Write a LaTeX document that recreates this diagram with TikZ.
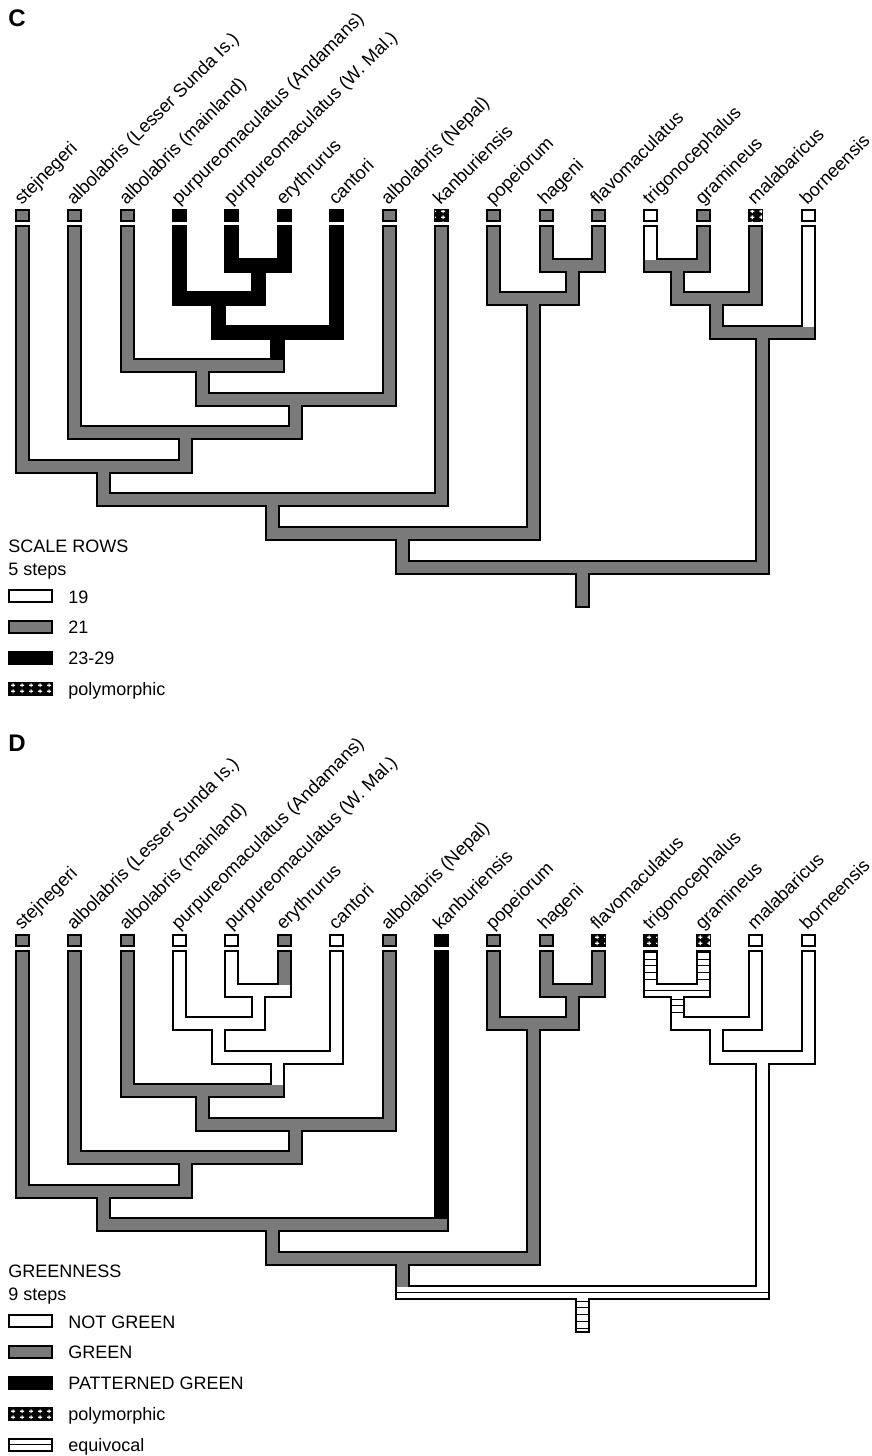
\documentclass[tikz,border=0pt]{standalone}
\usepackage{fontspec}
\setmainfont{Liberation Sans}
\usetikzlibrary{calc,patterns}

% white crosses on black for polymorphic states
\pgfdeclarepatternformonly{polycross}{\pgfpointorigin}{\pgfqpoint{4.3pt}{3pt}}{\pgfqpoint{4.3pt}{3pt}}{
  \pgfpathrectangle{\pgfqpoint{1.15pt}{1.2pt}}{\pgfqpoint{2pt}{0.6pt}}
  \pgfpathrectangle{\pgfqpoint{1.85pt}{0.5pt}}{\pgfqpoint{0.6pt}{2pt}}
  \pgfusepath{fill}
}

\colorlet{stipple}{black!52}
\tikzset{
  rim/.style={line width=7.5pt},
  branch/.style={line width=5.5pt, shorten <=1pt, shorten >=1pt},
  bar/.style={line width=5.5pt, line cap=rect},
  wht/.style={draw=white},
  gry/.style={draw=stipple},
  blk/.style={draw=black},
  eqv/.style={draw=white, postaction={draw=black, dash pattern=on 0.5pt off 2.85pt}},
  eqvbar/.style={draw=white, postaction={draw=black, line width=0.5pt, shorten <=-2.5pt, shorten >=-2.5pt}},
  swatch/.style={draw=black, line width=1pt, minimum width=6.5pt, minimum height=5.5pt, inner sep=0pt},
  legsw/.style={minimum width=21.5pt, minimum height=6pt},
  fwht/.style={fill=white},
  fgry/.style={fill=stipple},
  fblk/.style={fill=black},
  fpol/.style={fill=black, postaction={pattern=polycross, pattern color=white}},
  feqv/.style={fill=white, path picture={\draw[line width=0.5pt] (path picture bounding box.west) -- (path picture bounding box.east);}},
  lab/.style={rotate=45, anchor=base west, inner sep=0pt, font=\fontsize{9.2}{11}\selectfont},
  legend/.style={anchor=base west, inner sep=0pt, font=\fontsize{9}{11}\selectfont},
  tag/.style={inner sep=0pt, font=\bfseries\fontsize{12}{14}\selectfont},
}

% tips and nodes of the tree
\newcommand{\treecoords}{%
  \foreach \i in {0,...,15}
    \coordinate (t\i) at ({22.5+52.37*\i},225);
  \foreach \nd/\xx/\lv in {n1/258.17/1, n2/218.89/2, n3/277.8/3, n4/202.52/4,
      n5/295.8/5, n6/185.34/6, n7/103.92/7, n8/272.69/8, p1/572.39/1, p2/533.11/2,
      n9/402.9/9, r1/677.13/1, r2/716.4/2, r3/762.23/3, root/582.56/10}
    \coordinate (\nd) at (\xx,{231.5+33.55*\lv});
  \coordinate (base) at (582.56,608);
}

% black border of all branches
\newcommand{\treerims}{%
  \foreach \kid/\mom in {t0/n7, t1/n6, t2/n4, t3/n2, t4/n1, t5/n1, t6/n3, t7/n5,
      t8/n8, t9/p2, t10/p1, t11/p1, t12/r1, t13/r1, t14/r2, t15/r3, n1/n2, n2/n3,
      n3/n4, n4/n5, n5/n6, n6/n7, n7/n8, n8/n9, p1/p2, p2/n9, n9/root, r1/r2,
      r2/r3, r3/root, root/base}
    \draw[rim] (\kid) -- (\kid |- \mom);
  \foreach \nd/\lft/\rgt in {n1/t4/t5, n2/t3/n1, n3/n2/t6, n4/t2/n3, n5/n4/t7,
      n6/t1/n5, n7/t0/n6, n8/n7/t8, p1/t10/t11, p2/t9/p1, n9/n8/p2, r1/t12/t13,
      r2/r1/t14, r3/r2/t15, root/n9/r3}
    \draw[rim, line cap=rect] (\lft |- \nd) -- (\rgt |- \nd);
}

% taxon names
\newcommand{\treelabels}{%
  \foreach \i/\txt in {0/stejnegeri, 1/albolabris (Lesser Sunda Is.),
      2/albolabris (mainland), 3/purpureomaculatus (Andamans),
      4/purpureomaculatus (W. Mal.), 5/erythrurus, 6/cantori,
      7/albolabris (Nepal), 8/kanburiensis, 9/popeiorum, 10/hageni,
      11/flavomaculatus, 12/trigonocephalus, 13/gramineus, 14/malabaricus,
      15/borneensis}
    \node[lab] (lab\i) at ($(t\i)+(-1,-19)$) {\txt};
}

\begin{document}
\begin{tikzpicture}[x=0.5pt, y=-0.5pt]
    \useasboundingbox (0,0) rectangle (872,1456);
    % Panel C: scale rows
    \begin{scope}
        \treecoords
        \treerims
        % Branches
        \foreach \kid/\mom/\col in {t0/n7/gry, t1/n6/gry, t2/n4/gry, t3/n2/blk,
            t4/n1/blk, t5/n1/blk, t6/n3/blk, t7/n5/gry, t8/n8/gry, t9/p2/gry,
            t10/p1/gry, t11/p1/gry, t12/r1/wht, t13/r1/gry, t14/r2/gry, t15/r3/wht,
            n1/n2/blk, n2/n3/blk, n3/n4/blk, n4/n5/gry, n5/n6/gry, n6/n7/gry,
            n7/n8/gry, n8/n9/gry, p1/p2/gry, p2/n9/gry, n9/root/gry, r1/r2/gry,
            r2/r3/gry, r3/root/gry, root/base/gry}
            \draw[branch, \col] (\kid) -- (\kid |- \mom);
        \foreach \nd/\lft/\rgt/\col in {n1/t4/t5/blk, n2/t3/n1/blk, n3/n2/t6/blk,
            n4/t2/n3/gry, n5/n4/t7/gry, n6/t1/n5/gry, n7/t0/n6/gry, n8/n7/t8/gry,
            p1/t10/t11/gry, p2/t9/p1/gry, n9/n8/p2/gry, r1/t12/t13/gry,
            r2/r1/t14/gry, r3/r2/t15/gry, root/n9/r3/gry}
            \draw[bar, \col] (\lft |- \nd) -- (\rgt |- \nd);
        % Tip states
        \foreach \i/\col in {0/fgry, 1/fgry, 2/fgry, 3/fblk, 4/fblk, 5/fblk,
            6/fblk, 7/fgry, 8/fpol, 9/fgry, 10/fgry, 11/fgry, 12/fwht, 13/fgry,
            14/fpol, 15/fwht}
            \node[swatch, anchor=south, \col] (box\i) at ($(t\i)+(0,-3)$) {};
        \treelabels
        % Legend
        \node[tag] (tagC) at (17,18) {C};
        \node[legend] (headC) at (8,552) {SCALE ROWS};
        \node[legend] (stepsC) at (8,575) {5 steps};
        \foreach \row/\col/\txt in {0/fwht/19, 1/fgry/21, 2/fblk/23-29, 3/fpol/polymorphic} {
            \node[swatch, legsw, \col] (swC\row) at (30,{596+30.9*\row}) {};
            \node[legend] (keyC\row) at (68,{603+30.9*\row}) {\txt};
        }
    \end{scope}
    % Panel D: greenness
    \begin{scope}[shift={(0,725)}]
        \treecoords
        \treerims
        % Branches
        \foreach \kid/\mom/\col in {t0/n7/gry, t1/n6/gry, t2/n4/gry, t3/n2/wht,
            t4/n1/wht, t5/n1/gry, t6/n3/wht, t7/n5/gry, t8/n8/blk, t9/p2/gry,
            t10/p1/gry, t11/p1/gry, t12/r1/eqv, t13/r1/eqv, t14/r2/wht, t15/r3/wht,
            n1/n2/wht, n2/n3/wht, n3/n4/wht, n4/n5/gry, n5/n6/gry, n6/n7/gry,
            n7/n8/gry, n8/n9/gry, p1/p2/gry, p2/n9/gry, n9/root/gry, r1/r2/eqv,
            r2/r3/wht, r3/root/wht, root/base/eqv}
            \draw[branch, \col] (\kid) -- (\kid |- \mom);
        \foreach \nd/\lft/\rgt/\col in {n1/t4/t5/wht, n2/t3/n1/wht, n3/n2/t6/wht,
            n4/t2/n3/gry, n5/n4/t7/gry, n6/t1/n5/gry, n7/t0/n6/gry, n8/n7/t8/gry,
            p1/t10/t11/gry, p2/t9/p1/gry, n9/n8/p2/gry, r1/t12/t13/eqvbar,
            r2/r1/t14/wht, r3/r2/t15/wht, root/n9/r3/eqvbar}
            \draw[bar, \col] (\lft |- \nd) -- (\rgt |- \nd);
        % Tip states
        \foreach \i/\col in {0/fgry, 1/fgry, 2/fgry, 3/fwht, 4/fwht, 5/fgry,
            6/fwht, 7/fgry, 8/fblk, 9/fgry, 10/fgry, 11/fpol, 12/fpol, 13/fpol,
            14/fwht, 15/fwht}
            \node[swatch, anchor=south, \col] (box\i) at ($(t\i)+(0,-3)$) {};
        \treelabels
        % Legend
        \node[tag] (tagD) at (17,18) {D};
        \node[legend] (headD) at (8,552) {GREENNESS};
        \node[legend] (stepsD) at (8,575) {9 steps};
        \foreach \row/\col/\txt in {0/fwht/NOT GREEN, 1/fgry/GREEN,
            2/fblk/PATTERNED GREEN, 3/fpol/polymorphic, 4/feqv/equivocal} {
            \node[swatch, legsw, \col] (swD\row) at (30,{596+30.9*\row}) {};
            \node[legend] (keyD\row) at (68,{603+30.9*\row}) {\txt};
        }
    \end{scope}
\end{tikzpicture}
\end{document}
